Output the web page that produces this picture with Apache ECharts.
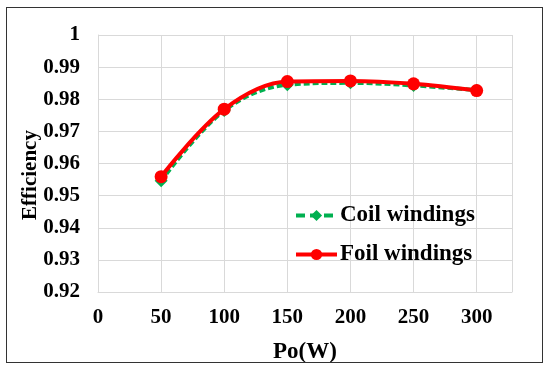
<!DOCTYPE html>
<html><head><meta charset="utf-8">
<script src="https://cdn.jsdelivr.net/npm/echarts@6/dist/echarts.min.js"></script>
<style>html,body{margin:0;padding:0;background:#fff}#c{width:550px;height:370px}
#frame{position:absolute;left:6px;top:7px;width:537px;height:356px;border:1px solid #333;box-sizing:border-box;pointer-events:none}</style>
</head><body><div id="c"></div><div id="frame"></div>
<script>
const power = [50, 100, 150, 200, 250, 300];
const coilWindings = [0.9546, 0.9765, 0.9845, 0.9851, 0.9843, 0.9828];
const foilWindings = [0.9559, 0.9769, 0.9855, 0.9857, 0.9848, 0.9827];
const seriesNames = ['Coil windings', 'Foil windings'];

const font = '"Liberation Serif", "Times New Roman", serif';
const legendText = {fontFamily: font, fontWeight: 'bold', fontSize: 23, color: '#000', padding: [0,0,0,-2]};
const chart = echarts.init(document.getElementById('c'));
chart.setOption({
  animation: false,
  textStyle: {fontFamily: font},
  grid: {left: 98, top: 35, right: 38, bottom: 78, containLabel: false, outerBoundsMode: 'none'},
  legend: [
    {left: 289, top: 199, itemWidth: 41, itemHeight: 14, lineStyle: {width: 4, type: [9, 5]}, textStyle: legendText, data: [seriesNames[0]]},
    {left: 289, top: 238, itemWidth: 41, itemHeight: 14, lineStyle: {width: 4}, textStyle: legendText, data: [seriesNames[1]]}
  ],
  graphic: [{
    type: 'text', x: 31, y: 175, rotation: Math.PI / 2,
    style: {text: 'Efficiency', fontFamily: font, fontWeight: 'bold', fontSize: 21, fill: '#000',
      align: 'center', verticalAlign: 'middle'}
  }],
  xAxis: {
    type: 'value', min: 0, max: 328, interval: 50,
    name: 'Po(W)', nameLocation: 'middle', nameGap: 49,
    nameTextStyle: {fontFamily: font, fontWeight: 'bold', fontSize: 23, color: '#000'},
    axisLine: {show: true, lineStyle: {color: '#d9d9d9'}},
    axisTick: {show: false},
    axisLabel: {fontFamily: font, fontWeight: 'bold', fontSize: 21, color: '#000', margin: 15,
      formatter: v => (v > 300 ? '' : String(v))},
    splitLine: {show: true, lineStyle: {color: '#d9d9d9', width: 1}}
  },
  yAxis: {
    type: 'value', min: 0.92, max: 1, interval: 0.01,
    axisLine: {show: true, lineStyle: {color: '#d9d9d9'}},
    axisTick: {show: false},
    axisLabel: {fontFamily: font, fontWeight: 'bold', fontSize: 21, color: '#000', margin: 18,
      formatter: v => (Math.abs(v - 1) < 1e-9 ? '1' : v.toFixed(2))},
    splitLine: {show: true, lineStyle: {color: '#d9d9d9', width: 1}}
  },
  series: [
    {
      name: seriesNames[0], type: 'line', smooth: 0.35,
      data: power.map((p, i) => [p, coilWindings[i]]),
      symbol: 'diamond', symbolSize: 13,
      itemStyle: {color: '#00b050'},
      lineStyle: {color: '#00b050', width: 4, type: [6, 3]}
    },
    {
      name: seriesNames[1], type: 'line', smooth: 0.35,
      data: power.map((p, i) => [p, foilWindings[i]]),
      symbol: 'circle', symbolSize: 13,
      itemStyle: {color: '#ff0000'},
      lineStyle: {color: '#ff0000', width: 4}
    }
  ]
});
</script></body></html>
